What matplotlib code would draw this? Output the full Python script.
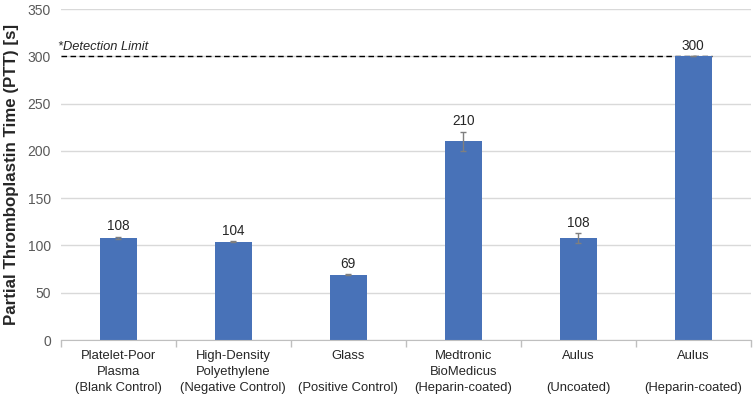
import numpy as np
import matplotlib as mpl
import matplotlib.pyplot as plt

mpl.use('agg')

plt.rcParams['font.family'] = ['Liberation Sans', 'DejaVu Sans']

# data
categories = ['Platelet-Poor\nPlasma\n(Blank Control)',
              'High-Density\nPolyethylene\n(Negative Control)',
              'Glass\n\n(Positive Control)',
              'Medtronic\nBioMedicus\n(Heparin-coated)',
              'Aulus\n\n(Uncoated)',
              'Aulus\n\n(Heparin-coated)']
ptt = [108, 104, 69, 210, 108, 300]
ptt_err = [1, 0.6, 0.6, 10, 5, 0]
detection_limit = 300

bar_color = '#4872b8'
tick_color = '#595959'
grid_color = '#d9d9d9'

fig = plt.figure(figsize=(7.55, 3.95), dpi=100)
ax = fig.add_axes([0.0804, 0.1392, 0.9139, 0.838])

x = np.arange(len(ptt))
bar_w = 0.32
ax.bar(x, ptt, width=bar_w, color=bar_color, zorder=3,
       yerr=ptt_err, error_kw=dict(ecolor='#7f7f7f', elinewidth=1, capsize=2.5, capthick=1, zorder=4))

# value labels above the error bars
for xi, v, e in zip(x, ptt, ptt_err):
    ax.annotate(str(v), (xi, v + e), xytext=(0, 2.5), textcoords='offset points',
                ha='center', va='bottom', fontsize=9.8, color='#262626')

# detection limit
ax.plot([-0.5, x[-1] + bar_w / 2], [detection_limit, detection_limit],
        color='black', linestyle=(0, (4, 2.5)), linewidth=1, zorder=2)
ax.text(-0.525, detection_limit + 3, '*Detection Limit', fontstyle='italic',
        fontsize=9.3, color='#262626', ha='left', va='bottom')

ax.set_xlim(-0.5, len(ptt) - 0.5)
ax.set_ylim(0, 350)
ax.set_yticks(np.arange(0, 351, 50))
ax.yaxis.grid(True, color=grid_color, linewidth=1, zorder=0)
ax.tick_params(axis='y', length=0, labelsize=10, labelcolor=tick_color, pad=7)

ax.set_xticks(x)
ax.set_xticklabels(categories, fontsize=9.4, color='#262626', linespacing=1.45)
ax.set_xticks(np.arange(-0.5, len(ptt), 1), minor=True)
ax.tick_params(axis='x', which='major', length=0, pad=7)
ax.tick_params(axis='x', which='minor', length=5, color='#bfbfbf', width=1)

for s in ['top', 'right', 'left']:
    ax.spines[s].set_visible(False)
ax.spines['bottom'].set_color('#bfbfbf')
ax.spines['bottom'].set_zorder(5)

ax.set_ylabel('Partial Thromboplastin Time (PTT) [s]', fontsize=12.2,
              fontweight='bold', color='#262626', labelpad=6)

fig.savefig('out.png', dpi=100)
